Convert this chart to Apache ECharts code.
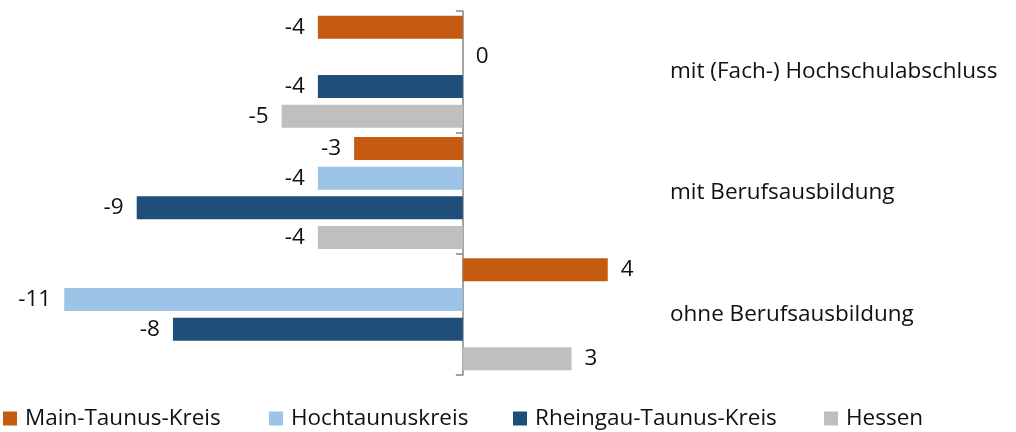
<!DOCTYPE html>
<html>
<head>
<meta charset="utf-8">
<script src="https://cdn.jsdelivr.net/npm/echarts@6/dist/echarts.min.js"></script>
<style>
  html, body { margin: 0; padding: 0; background: #fff; }
  #chart { width: 1016px; height: 432px; }
</style>
</head>
<body>
<div id="chart"></div>
<script>
  // Kategorien (von oben nach unten)
  var categories = ['mit (Fach-) Hochschulabschluss', 'mit Berufsausbildung', 'ohne Berufsausbildung'];
  var seriesNames = ['Main-Taunus-Kreis', 'Hochtaunuskreis', 'Rheingau-Taunus-Kreis', 'Hessen'];
  // Werte je Kreis
  var mainTaunus = [-4, -3, 4];
  var hochtaunus = [0, -4, -11];
  var rheingauTaunus = [-4, -9, -8];
  var hessen = [-5, -4, 3];

  var colors = ['#C55A11', '#9DC3E6', '#1F4E79', '#BFBFBF'];
  var fontFamily = '"Open Sans", sans-serif';
  var fontSize = 22.5;

  var myChart = echarts.init(document.getElementById('chart'));

  function buildSeries(name, values, color) {
    return {
      name: name,
      type: 'bar',
      yAxisIndex: 0,
      barWidth: 23,
      barGap: '29%',
      itemStyle: { color: color },
      label: {
        show: true,
        distance: 13,
        color: '#111',
        fontFamily: fontFamily,
        fontSize: fontSize
      },
      data: values.map(function (v) {
        return { value: v, label: { position: v < 0 ? 'left' : 'right' } };
      })
    };
  }

  var allValues = [mainTaunus, hochtaunus, rheingauTaunus, hessen];
  var series = seriesNames.map(function (n, i) {
    return buildSeries(n, allValues[i], colors[i]);
  });

  // jede Legende einzeln, damit die Abstände stimmen
  var legendLeft = [3, 269, 513, 824];
  var legends = seriesNames.map(function (n, i) {
    return {
      data: [n],
      left: legendLeft[i],
      top: 407,
      padding: 0,
      icon: 'rect',
      itemWidth: 14,
      itemHeight: 14,
      selectedMode: false,
      textStyle: { fontFamily: fontFamily, fontSize: fontSize, color: '#111', padding: [0, 0, 0, 3] }
    };
  });

  myChart.setOption({
    animation: false,
    color: colors,
    legend: legends,
    grid: { left: 28, right: 372, top: 11, bottom: 57 },
    xAxis: {
      type: 'value',
      min: -12,
      max: 5,
      show: false
    },
    yAxis: [
      {
        type: 'category',
        inverse: true,
        data: categories,
        axisLine: { show: true, onZero: true, lineStyle: { color: '#868686', width: 1.5 } },
        axisTick: { show: true, length: 7, lineStyle: { color: '#868686', width: 1.5 } },
        axisLabel: { show: false }
      },
      {
        type: 'category',
        inverse: true,
        position: 'right',
        data: categories,
        axisLine: { show: false },
        axisTick: { show: false },
        axisLabel: { margin: 26, color: '#111', fontFamily: fontFamily, fontSize: fontSize }
      }
    ],
    series: series
  });
</script>
</body>
</html>
